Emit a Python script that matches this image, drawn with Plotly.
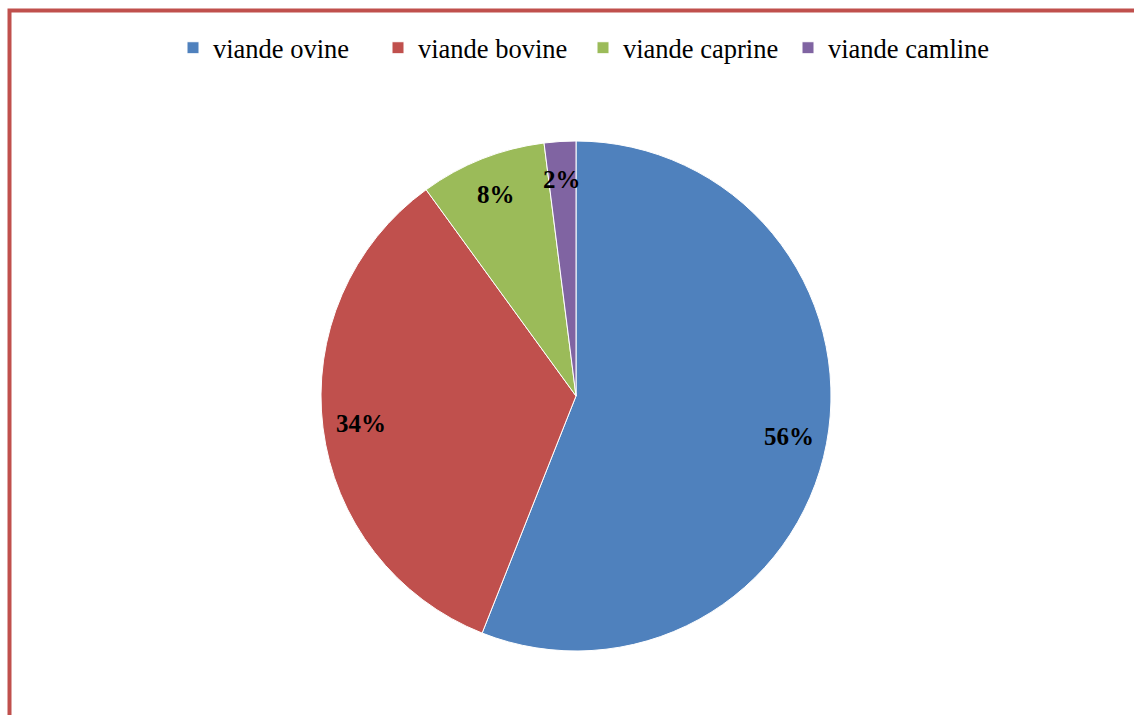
import math
import plotly.graph_objects as go

labels = ["viande ovine", "viande bovine", "viande caprine", "viande camline"]
values = [56, 34, 8, 2]
colors = ["#4F81BD", "#C0504D", "#9BBB59", "#8064A2"]

W, H = 1134, 715
cx, cy, R = 576, 396, 255
dom_x = [(cx - R) / W, (cx + R) / W]
dom_y = [(H - cy - R) / H, (H - cy + R) / H]

fig = go.Figure(go.Pie(
    labels=labels,
    values=values,
    sort=False,
    direction="clockwise",
    rotation=0,
    marker=dict(colors=colors, line=dict(color="#FFFFFF", width=1)),
    textinfo="none",
    domain=dict(x=dom_x, y=dom_y),
    hoverinfo="label+percent",
))

# data labels placed along each slice's mid-angle (Excel "best fit" style)
total = sum(values)
annotations = []
acc = 0.0
for v in values:
    mid = (acc + v / 2) / total * 2 * math.pi  # clockwise from 12 o'clock
    acc += v
    f = 0.85
    px = cx + f * R * math.sin(mid)
    py = cy - f * R * math.cos(mid)
    annotations.append(dict(
        x=px / W, y=1 - py / H, xref="paper", yref="paper",
        text=f"<b>{round(v / total * 100)}%</b>", showarrow=False,
        font=dict(family="Liberation Serif, Times New Roman, serif", size=25, color="#000000"),
        xanchor="center", yanchor="middle",
    ))

bx = 9.5 / W
by = 1 - 10.5 / H
fig.update_layout(
    width=W, height=H,
    margin=dict(l=0, r=0, t=0, b=0),
    paper_bgcolor="#FFFFFF",
    plot_bgcolor="#FFFFFF",
    legend=dict(
        orientation="h", x=173 / W, xanchor="left", y=1 - 48 / H, yanchor="middle",
        font=dict(family="Liberation Serif, Times New Roman, serif", size=26.5, color="#000000"),
        traceorder="normal", entrywidth=160, entrywidthmode="pixels",
    ),
    annotations=annotations,
    shapes=[dict(
        type="path", xref="paper", yref="paper",
        path=f"M {bx} -0.02 L {bx} {by} L 1.02 {by}",
        line=dict(color="#C0504D", width=4),
    )],
)

fig.write_html("out.html")
